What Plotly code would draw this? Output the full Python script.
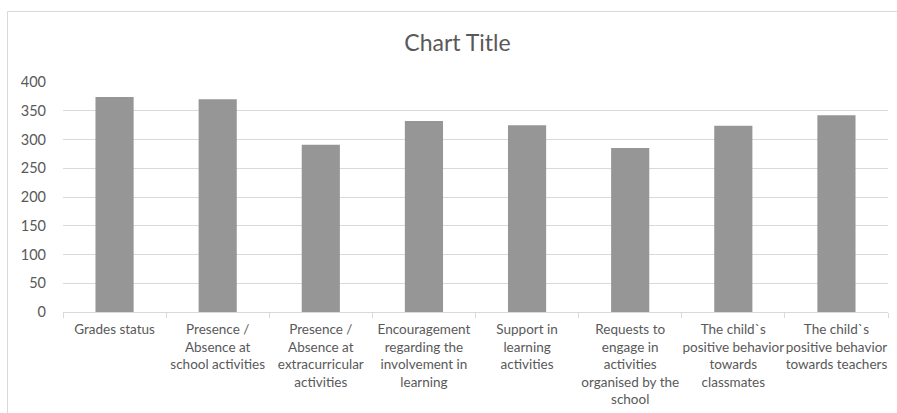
import plotly.graph_objects as go

# Category labels (line breaks as laid out under each bar)
categories = [
    "Grades status",
    "Presence /<br>Absence at<br>school activities",
    "Presence /<br>Absence at<br>extracurricular<br>activities",
    "Encouragement<br>regarding the<br>involvement in<br>learning",
    "Support in<br>learning<br>activities",
    "Requests to<br>engage in<br>activities<br>organised by the<br>school",
    "The child`s<br>positive behavior<br>towards<br>classmates",
    "The child`s<br>positive behavior<br>towards teachers",
]
values = [374, 370, 291, 332, 325, 285, 324, 342]
y_ticks = [0, 50, 100, 150, 200, 250, 300, 350, 400]

W, H = 897, 413
ML, MR, MT, MB = 63, 9, 82, 101
TEXT = "#595959"
FONT = "Lato, Open Sans, sans-serif"

fig = go.Figure(
    go.Bar(
        x=categories,
        y=values,
        marker=dict(color="#969696", line=dict(width=0)),
        hoverinfo="x+y",
    )
)

plot_w = W - ML - MR
plot_h = H - MT - MB

fig.update_layout(
    width=W,
    height=H,
    margin=dict(l=ML, r=MR, t=MT, b=MB, pad=0, autoexpand=False),
    paper_bgcolor="white",
    plot_bgcolor="white",
    bargap=0.63,
    showlegend=False,
    font=dict(family=FONT, color=TEXT, size=12),
    title=dict(
        text="Chart Title",
        x=0.51,
        xanchor="center",
        y=1 - 43 / H,
        yanchor="middle",
        font=dict(family=FONT, size=23, color=TEXT),
    ),
    xaxis=dict(
        type="category",
        automargin=False,
        showgrid=False,
        showline=True,
        linecolor="#d9d9d9",
        linewidth=1,
        ticks="outside",
        tickson="boundaries",
        ticklen=5,
        tickcolor="#d9d9d9",
        ticklabelstandoff=5,
        tickfont=dict(family=FONT, size=13.5, color=TEXT),
        tickangle=0,
        fixedrange=True,
    ),
    yaxis=dict(
        range=[0, 400],
        automargin=False,
        tickvals=y_ticks,
        showgrid=True,
        gridcolor="#d9d9d9",
        gridwidth=1,
        zeroline=False,
        showline=False,
        ticks="",
        ticklabelstandoff=16,
        tickfont=dict(family=FONT, size=14.5, color=TEXT),
        fixedrange=True,
    ),
    shapes=[
        # thin chart-area border
        dict(
            type="rect",
            xref="paper",
            yref="paper",
            x0=(7.5 - ML) / plot_w,
            x1=(W + 20 - ML) / plot_w,
            y0=-(MB + 20) / plot_h,
            y1=(H - MB - 11.5) / plot_h,
            line=dict(color="#d9d9d9", width=1),
            fillcolor="rgba(0,0,0,0)",
            layer="below",
        )
    ],
)

fig.write_html("out.html")
